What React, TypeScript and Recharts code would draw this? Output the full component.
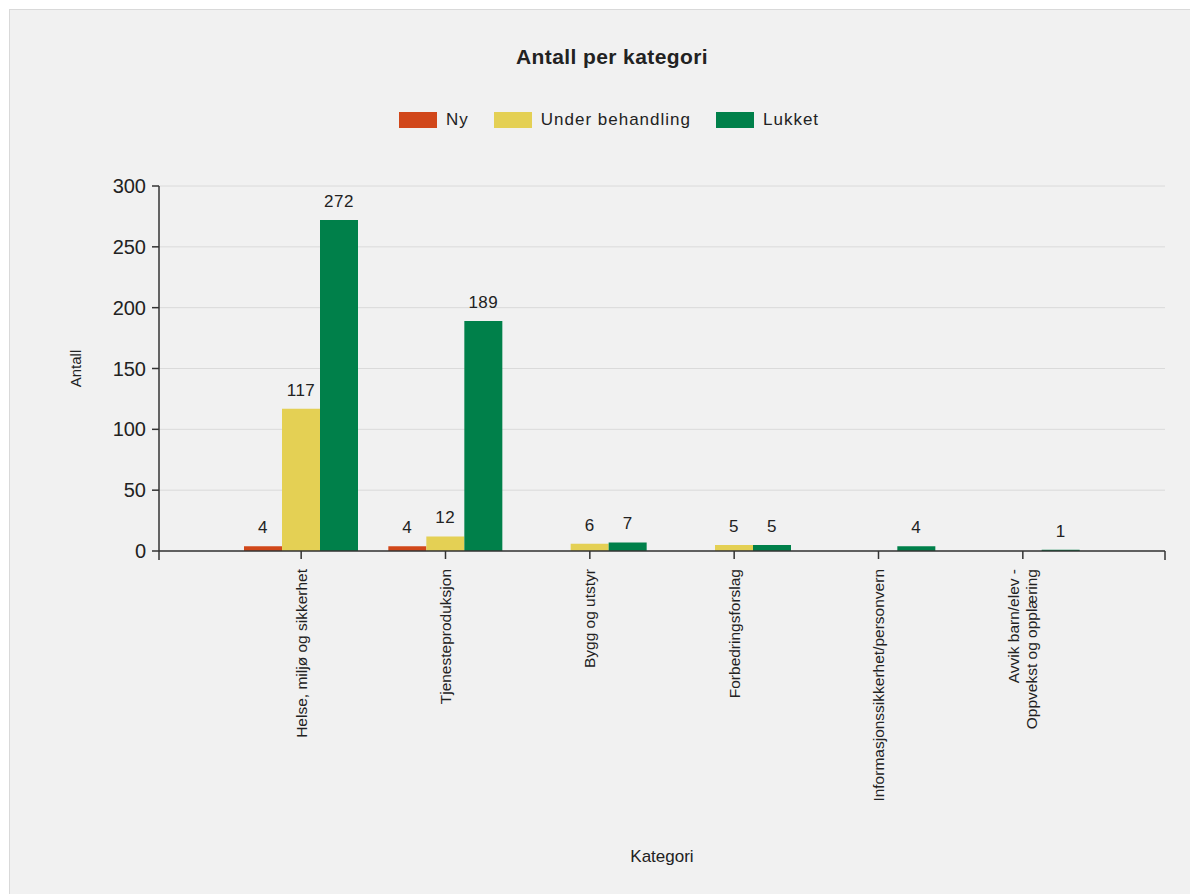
import { Bar, BarChart, CartesianGrid, LabelList, XAxis, YAxis, usePlotArea } from "recharts"

const categories = [
  "Helse, miljø og sikkerhet",
  "Tjenesteproduksjon",
  "Bygg og utstyr",
  "Forbedringsforslag",
  "Informasjonssikkerhet/personvern",
  "Avvik barn/elev - Oppvekst og opplæring",
]
const ny = [4, 4, 0, 0, 0, 0]
const underBehandling = [117, 12, 6, 5, 0, 0]
const lukket = [272, 189, 7, 5, 4, 1]
const yTicks = [0, 50, 100, 150, 200, 250, 300]

const series = [
  { key: "ny", name: "Ny", color: "#d1471a" },
  { key: "under", name: "Under behandling", color: "#e4d054" },
  { key: "lukket", name: "Lukket", color: "#00804a" },
]

const data = categories.map((c, i) => ({
  kategori: c,
  ny: ny[i],
  under: underBehandling[i],
  lukket: lukket[i],
}))

const FONT = "'Liberation Sans', Arial, sans-serif"

function CategoryTick(props: any) {
  const { x, y, payload } = props
  const text: string = payload.value
  const lines = text.includes(" - ") ? [text.split(" - ")[0] + " -", text.split(" - ")[1]] : [text]
  const off = (lines.length - 1) * 9
  return (
    <g>
      {lines.map((l, i) => (
        <text
          key={i}
          x={x - off + i * 18}
          y={y + 8}
          dy="0.35em"
          transform={`rotate(-90, ${x - off + i * 18}, ${y + 8})`}
          textAnchor="end"
          fontSize={15.5}
          fontFamily={FONT}
          fill="#222"
        >
          {l}
        </text>
      ))}
    </g>
  )
}

function ValueLabel(props: any) {
  const { x, y, width, value } = props
  if (!value) return null
  return (
    <text x={x + width / 2} y={y - 13} textAnchor="middle" fontSize={17} letterSpacing={0.5} fontFamily={FONT} fill="#222">
      {value}
    </text>
  )
}

// small end ticks where the axes meet, like the original
function AxisEnds() {
  const area = usePlotArea()
  if (!area) return null
  const bottom = area.y + area.height
  return (
    <g stroke="#333" strokeWidth={1.5}>
      <line x1={area.x} y1={bottom} x2={area.x} y2={bottom + 9} />
      <line x1={area.x + area.width} y1={bottom} x2={area.x + area.width} y2={bottom + 9} />
    </g>
  )
}

export default function App() {
  return (
    <div
      style={{
        position: "relative",
        marginLeft: 1,
        marginTop: 1,
        width: 1200,
        height: 900,
        background: "#f1f1f1",
        border: "1px solid #d9d9d9",
        fontFamily: FONT,
        color: "#222",
      }}
    >
      <div
        style={{
          position: "absolute",
          left: 0,
          width: 1204,
          top: 35,
          textAlign: "center",
          fontWeight: "bold",
          fontSize: 21,
          letterSpacing: 0.4,
        }}
      >
        Antall per kategori
      </div>
      <div style={{ position: "absolute", left: 389, top: 100, display: "flex", alignItems: "center", fontSize: 17, letterSpacing: 1 }}>
        {series.map((s) => (
          <div key={s.key} style={{ display: "flex", alignItems: "center", marginRight: 25 }}>
            <span style={{ display: "inline-block", width: 38, height: 16, background: s.color, marginRight: 9 }} />
            <span>{s.name}</span>
          </div>
        ))}
      </div>
      <div
        style={{
          position: "absolute",
          left: 40,
          top: 350,
          width: 50,
          textAlign: "center",
          fontSize: 15,
          transform: "rotate(-90deg)",
        }}
      >
        Antall
      </div>
      <div style={{ position: "absolute", left: 600, width: 104, top: 837, textAlign: "center", fontSize: 17 }}>
        Kategori
      </div>
      <div style={{ position: "absolute", left: 0, top: 0 }}>
        <BarChart
          width={1180}
          height={880}
          data={data}
          margin={{ top: 176, right: 25, left: 89, bottom: 39 }}
          barGap={0}
          barSize={38}
        >
          <CartesianGrid vertical={false} stroke="#dadada" strokeWidth={1} />
          <XAxis
            dataKey="kategori"
            height={300}
            interval={0}
            padding={{ left: 70, right: 70 }}
            tickSize={8}
            tick={<CategoryTick />}
            axisLine={{ stroke: "#333", strokeWidth: 1.5 }}
            tickLine={{ stroke: "#333", strokeWidth: 1.5 }}
          />
          <YAxis
            width={60}
            domain={[0, 300]}
            ticks={yTicks}
            tickSize={7}
            tickMargin={6}
            tick={{ fontSize: 20, fill: "#222", fontFamily: FONT }}
            axisLine={{ stroke: "#333", strokeWidth: 1.5 }}
            tickLine={{ stroke: "#333", strokeWidth: 1.5 }}
          />
          {series.map((s) => (
            <Bar key={s.key} dataKey={s.key} name={s.name} fill={s.color} isAnimationActive={false}>
              <LabelList dataKey={s.key} content={<ValueLabel />} />
            </Bar>
          ))}
          <AxisEnds />
        </BarChart>
      </div>
    </div>
  )
}
